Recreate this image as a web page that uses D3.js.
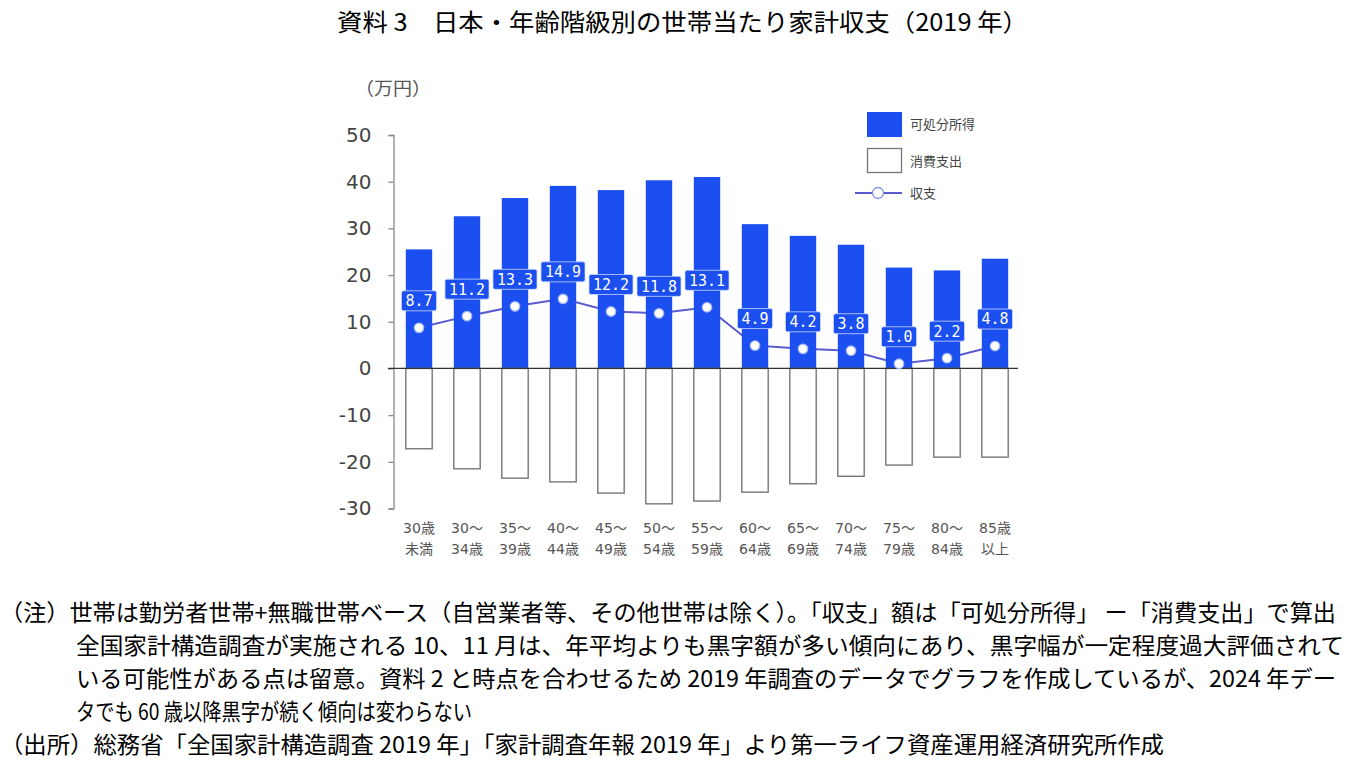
<!DOCTYPE html>
<html><head><meta charset="utf-8">
<script src="https://cdn.jsdelivr.net/npm/d3@7"></script>
<style>html,body{margin:0;padding:0;background:#fff;}svg{display:block;}</style>
</head><body>
<svg id="c" width="1357" height="774"></svg>
<script>
const catTop    = ["30歳","30～","35～","40～","45～","50～","55～","60～","65～","70～","75～","80～","85歳"];
const catBottom = ["未満","34歳","39歳","44歳","49歳","54歳","59歳","64歳","69歳","74歳","79歳","84歳","以上"];
const income    = [25.5, 32.6, 36.5, 39.1, 38.2, 40.3, 41.0, 30.9, 28.4, 26.5, 21.6, 21.0, 23.5];
const spending  = [-17.2, -21.5, -23.5, -24.3, -26.7, -29.0, -28.4, -26.5, -24.7, -23.1, -20.7, -19.0, -19.0];
const balance   = [8.7, 11.2, 13.3, 14.9, 12.2, 11.8, 13.1, 4.9, 4.2, 3.8, 1.0, 2.2, 4.8];
const yTicks    = [50, 40, 30, 20, 10, 0, -10, -20, -30];
const legendLabels = ["可処分所得", "消費支出", "収支"];
const title = "資料 3　日本・年齢階級別の世帯当たり家計収支（2019 年）";
const unitLabel = "（万円）";
const notes = [
  "（注）世帯は勤労者世帯+無職世帯ベース（自営業者等、その他世帯は除く）。「収支」額は「可処分所得」 ー「消費支出」で算出",
  "全国家計構造調査が実施される 10、11 月は、年平均よりも黒字額が多い傾向にあり、黒字幅が一定程度過大評価されて",
  "いる可能性がある点は留意。資料 2 と時点を合わせるため 2019 年調査のデータでグラフを作成しているが、2024 年デー",
  "タでも 60 歳以降黒字が続く傾向は変わらない",
  "（出所）総務省「全国家計構造調査 2019 年」「家計調査年報 2019 年」より第一ライフ資産運用経済研究所作成"
];

const BLUE = "#1c4fef", LINE = "#5b5bd0";
const svg = d3.select("#c");
const idx = d3.range(catTop.length);
const x = d3.scaleBand().domain(idx).range([395, 1019]).paddingInner(0.45).paddingOuter(0.225);
const y = d3.scaleLinear().domain([-30, 50]).range([508.5, 135]);
const cjk = "'Noto Sans CJK JP', sans-serif";
const latin = "'DejaVu Sans', 'Noto Sans CJK JP', sans-serif";

// Title
svg.append("text").attr("x", 337).attr("y", 31).attr("font-family", cjk).attr("font-size", 24)
  .attr("fill", "#000").attr("textLength", 691).attr("lengthAdjust", "spacingAndGlyphs").text(title);

// unit
svg.append("text").attr("x", 355).attr("y", 95).attr("font-family", cjk).attr("font-size", 18)
  .attr("fill", "#555").attr("textLength", 76).attr("lengthAdjust", "spacingAndGlyphs").text(unitLabel);

// Y axis
const yAxis = svg.append("g").attr("transform", "translate(393.5,0)")
  .call(d3.axisLeft(y).tickValues(yTicks).tickSize(5).tickPadding(17).tickFormat(d => String(d)));
yAxis.select(".domain").attr("stroke", "#888").attr("stroke-width", 1.3);
yAxis.selectAll(".tick line").attr("stroke", "#888").attr("stroke-width", 1.3);
yAxis.selectAll(".tick text").attr("font-family", latin).attr("font-size", 20).attr("fill", "#444");

// Balance line (behind bars)
const cx = i => x(i) + x.bandwidth() / 2;
svg.append("path").datum(idx)
  .attr("d", d3.line().x(i => cx(i)).y(i => y(balance[i])))
  .attr("fill", "none").attr("stroke", LINE).attr("stroke-width", 2);

// Bars
svg.append("g").selectAll("rect").data(idx).join("rect")
  .attr("x", i => x(i)).attr("width", x.bandwidth())
  .attr("y", i => y(income[i])).attr("height", i => y(0) - y(income[i]))
  .attr("fill", BLUE);
svg.append("g").selectAll("rect").data(idx).join("rect")
  .attr("x", i => x(i)).attr("width", x.bandwidth())
  .attr("y", y(0)).attr("height", i => y(spending[i]) - y(0))
  .attr("fill", "#fff").attr("stroke", "#777").attr("stroke-width", 1.4);

// zero line
svg.append("line").attr("x1", 388).attr("x2", 1018).attr("y1", y(0)).attr("y2", y(0))
  .attr("stroke", "#333").attr("stroke-width", 1.2);

// markers
svg.append("g").selectAll("circle").data(idx).join("circle")
  .attr("cx", cx).attr("cy", i => y(balance[i])).attr("r", 4.8)
  .attr("fill", "#fff").attr("stroke", "#9fb4ff").attr("stroke-width", 1.2);

// Data labels
const lab = svg.append("g").selectAll("g").data(idx).join("g")
  .attr("transform", i => `translate(${cx(i)},${y(balance[i]) - 27})`);
lab.append("rect").attr("x", i => -(balance[i].toFixed(1).length * 9 + 8) / 2)
  .attr("width", i => balance[i].toFixed(1).length * 9 + 8)
  .attr("y", -10).attr("height", 20).attr("rx", 2)
  .attr("fill", BLUE).attr("stroke", "#c9d6ff").attr("stroke-width", 0.8);
lab.append("text").attr("text-anchor", "middle").attr("dy", "0.36em")
  .attr("font-family", "'DejaVu Sans Mono', monospace").attr("font-size", 15)
  .attr("fill", "#fff").text(i => balance[i].toFixed(1));

// Category labels
const cl = svg.append("g").attr("font-family", latin).attr("font-size", 14).attr("fill", "#555")
  .attr("text-anchor", "middle");
cl.selectAll("text.t").data(idx).join("text").attr("class", "t")
  .attr("x", cx).attr("y", 533).text(i => catTop[i]);
cl.selectAll("text.b").data(idx).join("text").attr("class", "b")
  .attr("x", cx).attr("y", 554).text(i => catBottom[i]);

// Legend
const lg = svg.append("g");
lg.append("rect").attr("x", 867).attr("y", 112).attr("width", 35).attr("height", 25).attr("fill", BLUE);
lg.append("rect").attr("x", 867.5).attr("y", 148.5).attr("width", 34).attr("height", 24)
  .attr("fill", "#fff").attr("stroke", "#777").attr("stroke-width", 1.3);
lg.append("line").attr("x1", 855).attr("x2", 902).attr("y1", 193).attr("y2", 193)
  .attr("stroke", LINE).attr("stroke-width", 2);
lg.append("circle").attr("cx", 878).attr("cy", 193).attr("r", 5.5)
  .attr("fill", "#fff").attr("stroke", "#7f8ff0").attr("stroke-width", 1.3);
lg.selectAll("text").data(legendLabels).join("text")
  .attr("x", 910).attr("y", (d, i) => [124, 161, 193][i]).attr("dy", "0.36em")
  .attr("font-family", cjk).attr("font-size", 13).attr("fill", "#444").text(d => d);

// Notes
const noteX = [0, 76, 76, 76, 0];
const noteW = [1336, 1268, 1260, 396, 1164];
const noteY = [621, 654, 687, 720, 753];
svg.append("g").selectAll("text").data(notes).join("text")
  .attr("x", (d, i) => noteX[i]).attr("y", (d, i) => noteY[i])
  .attr("font-family", cjk).attr("font-size", 23).attr("fill", "#000")
  .attr("textLength", (d, i) => noteW[i]).attr("lengthAdjust", "spacingAndGlyphs")
  .text(d => d);
</script>
</body></html>
